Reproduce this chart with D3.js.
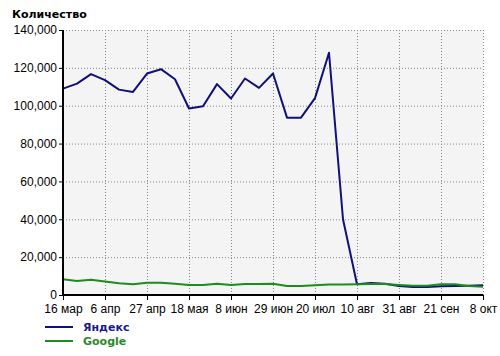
<!DOCTYPE html>
<meta charset="utf-8">
<script src="https://d3js.org/d3.v7.min.js"></script>
<style>
body { margin: 0; background: #fff; }
.tick text { font: 12px "Liberation Sans", Arial, sans-serif; fill: #000; }
</style>
<div id="chart"></div>
<script>

// weekly labels (point axis), every 3rd one is shown
var weeks = ["16 мар","23 мар","30 мар","6 апр","13 апр","20 апр","27 апр","4 мая","11 мая","18 мая",
  "25 мая","1 июн","8 июн","15 июн","22 июн","29 июн","6 июл","13 июл","20 июл","27 июл",
  "3 авг","10 авг","17 авг","24 авг","31 авг","7 сен","14 сен","21 сен","28 сен","5 окт","8 окт"];

var yandex = [109000,111700,116700,113500,108500,107300,117000,119300,114000,98500,
  99700,111400,103800,114400,109400,117000,93700,93700,104000,128000,
  40000,5700,6400,6000,4800,4200,4200,4600,4800,4900,5100];

var google = [8300,7400,8100,7100,6200,5700,6500,6500,6000,5300,
  5300,6000,5300,5800,5800,6000,4800,4800,5100,5500,
  5500,5700,5800,5800,5300,4900,4900,5700,5700,4800,4400];

var yTicks = [0,20000,40000,60000,80000,100000,120000,140000];

var series = [
  {name: "Яндекс", values: yandex, color: "#10107a", text: "#1a1a8c"},
  {name: "Google", values: google, color: "#1c8c1c", text: "#2a8a2a"}
];

var margin = {top: 30, right: 17, bottom: 61, left: 63},
    width = 500 - margin.left - margin.right,
    height = 356 - margin.top - margin.bottom;

var root = d3.select("#chart").append("svg")
  .attr("width", 500).attr("height", 356);

root.append("text")
  .attr("x", 12).attr("y", 18)
  .style("font", "bold 11px 'DejaVu Sans', Verdana, sans-serif")
  .text("Количество");

var svg = root.append("g")
  .attr("transform", "translate(" + margin.left + "," + margin.top + ")");

var x = d3.scalePoint().domain(weeks).range([0, width]);
var y = d3.scaleLinear().domain([0, 140000]).range([height, 0]);

var shown = weeks.filter(function(d, i) { return i % 3 == 0; });

svg.append("rect")
  .attr("width", width).attr("height", height)
  .attr("fill", "#f4f4f4");

// dotted grid
svg.append("g").selectAll("line").data(yTicks.slice(1)).enter().append("line")
  .attr("x1", 0).attr("x2", width)
  .attr("y1", function(d) { return y(d) + 0.5; })
  .attr("y2", function(d) { return y(d) + 0.5; })
  .attr("stroke", "#888").attr("stroke-dasharray", "1,2");
svg.append("g").selectAll("line").data(shown.slice(1)).enter().append("line")
  .attr("x1", function(d) { return x(d) + 0.5; })
  .attr("x2", function(d) { return x(d) + 0.5; })
  .attr("y1", 0).attr("y2", height)
  .attr("stroke", "#888").attr("stroke-dasharray", "1,2");

var line = d3.line()
  .x(function(d, i) { return x(weeks[i]); })
  .y(function(d) { return y(d); });

series.forEach(function(s) {
  svg.append("path")
    .datum(s.values)
    .attr("fill", "none")
    .attr("stroke", s.color)
    .attr("stroke-width", 2)
    .attr("stroke-linejoin", "round")
    .attr("d", line);
});

var yAxis = svg.append("g")
  .call(d3.axisLeft(y).tickValues(yTicks).tickSize(4).tickPadding(2)
    .tickFormat(d3.format(",")));
yAxis.select(".domain").attr("stroke-width", 2).attr("d", "M0,0V" + height);

var xAxis = svg.append("g")
  .attr("transform", "translate(0," + height + ")")
  .call(d3.axisBottom(x).tickValues(shown).tickSize(5).tickPadding(4));
xAxis.select(".domain").attr("stroke-width", 2).attr("d", "M0,0H" + width);

// legend
var legend = root.append("g").attr("transform", "translate(45,327)");
series.forEach(function(s, i) {
  var g = legend.append("g").attr("transform", "translate(0," + (i * 14) + ")");
  g.append("line").attr("x1", 0).attr("x2", 28).attr("y1", 0).attr("y2", 0)
    .attr("stroke", s.color).attr("stroke-width", 2);
  g.append("text").attr("x", 38).attr("y", 4)
    .style("font", "bold 11px 'DejaVu Sans', Verdana, sans-serif")
    .attr("fill", s.text)
    .text(s.name);
});

</script>
